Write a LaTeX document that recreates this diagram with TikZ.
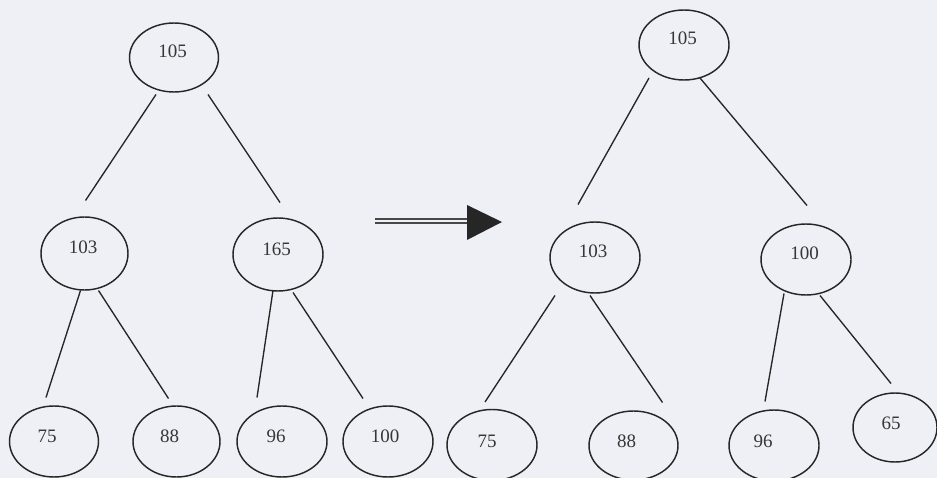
\documentclass[tikz,border=0pt]{standalone}
\usepackage{fontspec}
\setmainfont{Liberation Serif}
\usetikzlibrary{shapes.geometric,calc}
\definecolor{paper}{HTML}{EEF0F6}
\definecolor{ink}{HTML}{262626}
\definecolor{numink}{HTML}{363636}
\tikzset{
  bub/.style={ellipse, draw=ink, line width=1.45pt, minimum width=89pt, minimum height=71pt, inner sep=0pt},
  lbl/.style={text=numink, font=\fontsize{19}{21}\selectfont, inner sep=0pt},
  edge/.style={draw=ink, line width=1.35pt},
  bigarrow/.style={draw=ink!85, line width=1.7pt, double=paper, double distance=1.8pt}
}
\begin{document}
\begin{tikzpicture}[x=1pt, y=-1pt]
  \fill[paper] (0,0) rectangle (937,478);
  \useasboundingbox (0,0) rectangle (937,478);

  % ---- tree before the swap ----
  \node[bub, minimum height=69pt, label={[lbl, xshift=-1.5pt, yshift=6pt]center:105}] (a105) at (174,57.5) {};
  \node[bub, minimum width=87pt, minimum height=73pt, label={[lbl, xshift=-1.5pt, yshift=6.5pt]center:103}] (a103) at (84.5,253.5) {};
  \node[bub, minimum width=90pt, minimum height=73pt, label={[lbl, xshift=-1.5pt, yshift=5.5pt]center:165}] (a165) at (278,254.5) {};
  \node[bub, label={[lbl, xshift=-7pt, yshift=5pt]center:75}] (a75) at (54,441.5) {};
  \node[bub, minimum width=87pt, label={[lbl, xshift=-7pt, yshift=5pt]center:88}] (a88) at (176.5,441.5) {};
  \node[bub, minimum width=90pt, label={[lbl, xshift=-6pt, yshift=5pt]center:96}] (a96) at (282,441.5) {};
  \node[bub, minimum width=90pt, label={[lbl, xshift=-3pt, yshift=5pt]center:100}] (a100) at (388,441.5) {};

  \draw[edge] ($(a105)+(-18,37)$) -- ($(a103)+(1,-53)$);
  \draw[edge] ($(a105)+(34,37)$) -- ($(a165)+(2,-52)$);
  \draw[edge] ($(a103)+(-4,37)$) -- ($(a75)+(-8,-44)$);
  \draw[edge] ($(a103)+(14,37)$) -- ($(a88)+(-8,-43)$);
  \draw[edge] ($(a165)+(-5,36)$) -- ($(a96)+(-25,-44)$);
  \draw[edge] ($(a165)+(15,38)$) -- ($(a100)+(-25,-43)$);

  % ---- transition arrow ----
  \coordinate (arrS) at (375,221);
  \coordinate (arrE) at (468,221);
  \draw[bigarrow] (arrS) -- (arrE);
  \fill[ink] ($(arrE)+(-1,-16)$) -- ($(arrE)+(34,1)$) -- ($(arrE)+(-1,19)$) -- cycle;

  % ---- tree after the swap ----
  \node[bub, minimum width=90pt, minimum height=70pt, label={[lbl, xshift=-1.5pt, yshift=7pt]center:105}] (b105) at (684,45) {};
  \node[bub, minimum width=90pt, label={[lbl, xshift=-2pt, yshift=6pt]center:103}] (b103) at (595,257.5) {};
  \node[bub, minimum width=90pt, label={[lbl, xshift=-1.5pt, yshift=6pt]center:100}] (b100) at (806,259.5) {};
  \node[bub, minimum width=90pt, label={[lbl, xshift=-5pt, yshift=4pt]center:75}] (b75) at (492,445) {};
  \node[bub, minimum width=89pt, minimum height=69pt, label={[lbl, xshift=-7pt, yshift=4pt]center:88}] (b88) at (633.5,445.5) {};
  \node[bub, minimum width=90pt, label={[lbl, xshift=-11pt, yshift=4pt]center:96}] (b96) at (774,445.5) {};
  \node[bub, minimum width=84pt, minimum height=69pt, label={[lbl, xshift=-4pt, yshift=4.5pt]center:65}] (b65) at (895,427.5) {};

  \draw[edge] ($(b105)+(-35,33)$) -- ($(b103)+(-17,-53)$);
  \draw[edge] ($(b105)+(16,33)$) -- ($(b100)+(1,-54)$);
  \draw[edge] ($(b103)+(-40,38)$) -- ($(b75)+(-7,-43)$);
  \draw[edge] ($(b103)+(-5,38)$) -- ($(b88)+(29,-43)$);
  \draw[edge] ($(b100)+(-22,34)$) -- ($(b96)+(-9,-44)$);
  \draw[edge] ($(b100)+(14,36)$) -- ($(b65)+(-4,-44)$);
\end{tikzpicture}
\end{document}
